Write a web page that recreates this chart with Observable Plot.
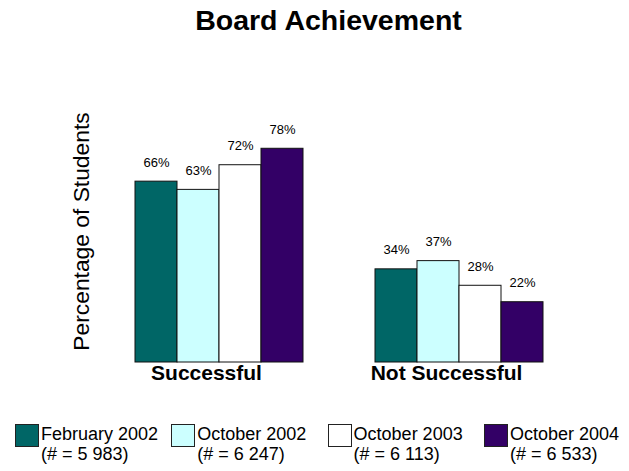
<!DOCTYPE html>
<html><head><meta charset="utf-8">
<script src="https://cdn.jsdelivr.net/npm/d3@7"></script>
<script src="https://cdn.jsdelivr.net/npm/@observablehq/plot@0.6"></script>
<style>
body{margin:0;background:#fff;font-family:"Liberation Sans",Arial,sans-serif;color:#000;}
#wrap{position:relative;width:629px;height:471px;overflow:hidden;background:#fff;}
#title{position:absolute;left:14px;width:629px;top:6px;text-align:center;font-weight:bold;font-size:28.5px;line-height:28px;white-space:nowrap;}
#chart{position:absolute;left:0;top:0;}
#ylab{position:absolute;width:300px;height:23px;line-height:23px;font-size:22.8px;text-align:center;white-space:nowrap;transform:rotate(-90deg);}
#legend{position:absolute;left:15px;top:424px;display:grid;grid-template-columns:repeat(4,156.3px);}
.item{display:flex;align-items:flex-start;}
.sw{width:22px;height:21px;border:1px solid #222;flex:none;}
.txt{margin-left:2px;font-size:18px;line-height:20px;white-space:nowrap;}
</style></head>
<body><div id="wrap">
<div id="title">Board Achievement</div>
<div id="chart"></div>
<div id="ylab">Percentage of Students</div>
<div id="legend"></div>
</div>
<script>
const groups = ["Successful", "Not Successful"];
const series = ["February 2002", "October 2002", "October 2003", "October 2004"];
const counts = ["5 983", "6 247", "6 113", "6 533"];
const successful = [66, 63, 72, 78];
const notSuccessful = [34, 37, 28, 22];
const colors = ["#006666", "#ccffff", "#ffffff", "#330066"];
const yLabel = "Percentage of Students";

const data = [];
groups.forEach((g, gi) => {
  const vals = gi === 0 ? successful : notSuccessful;
  series.forEach((s, i) => data.push({group: g, series: s, value: vals[i]}));
});

const chart = Plot.plot({
  width: 629, height: 400,
  marginTop: 88, marginBottom: 38, marginLeft: 135, marginRight: 86,
  fx: {domain: groups, paddingInner: 0.3, paddingOuter: 0, label: null},
  x: {domain: series, padding: 0, axis: null},
  y: {domain: [0, 100], axis: null},
  color: {domain: series, range: colors},
  style: {fontFamily: "'Liberation Sans', Arial, sans-serif", color: "#000", background: "transparent", overflow: "visible"},
  marks: [
    Plot.barY(data, {fx: "group", x: "series", y: "value", fill: "series", stroke: "#111", strokeWidth: 1}),
    Plot.text(data, {fx: "group", x: "series", y: "value", text: d => d.value + "%", lineAnchor: "bottom", dy: -15, fontSize: 13, fill: "#000"}),
    Plot.axisFx({anchor: "bottom", tickSize: 0, tickPadding: 2.5, fontSize: 21, fontWeight: "bold", dx: -13, label: null})
  ]
});
document.getElementById("chart").appendChild(chart);

const yl = document.getElementById("ylab");
yl.textContent = yLabel;
const cx = 80.5, cy = 231;
yl.style.left = (cx - 150) + "px";
yl.style.top = (cy - 11.5) + "px";

const legend = document.getElementById("legend");
series.forEach((s, i) => {
  const item = document.createElement("div");
  item.className = "item";
  const sw = document.createElement("div");
  sw.className = "sw";
  sw.style.background = colors[i];
  const txt = document.createElement("div");
  txt.className = "txt";
  txt.innerHTML = s + "<br>(# = " + counts[i] + ")";
  item.appendChild(sw); item.appendChild(txt);
  legend.appendChild(item);
});
</script>
</body></html>
